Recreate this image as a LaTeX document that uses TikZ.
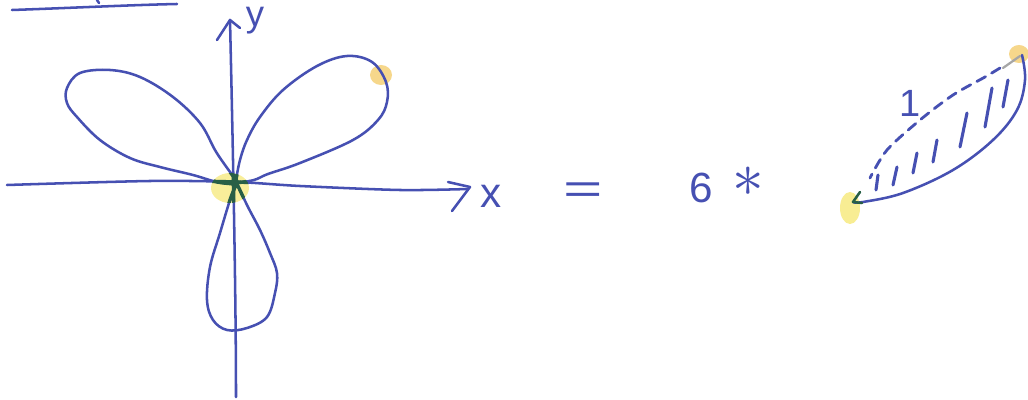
\documentclass[tikz,border=0pt]{standalone}
\usepackage{fontspec}
\setmainfont{Liberation Sans}
\definecolor{ink}{RGB}{70,80,178}
\definecolor{hlY}{RGB}{246,232,120}
\definecolor{hlO}{RGB}{244,205,110}
\definecolor{dkgreen}{RGB}{40,95,70}
\begin{document}
\begin{tikzpicture}[x=0.025cm,y=-0.025cm,
  inkline/.style={draw=ink,line width=1.8pt,line cap=round,line join=round},
  hatchline/.style={draw=ink,line width=2.2pt,line cap=round},
  lbl/.style={text=ink,inner sep=0pt,outer sep=0pt}]
\useasboundingbox (0,0) rectangle (1028,400);
% highlights
\fill[hlY,opacity=0.75] (230,188) ellipse [x radius=19, y radius=15];
\fill[hlO,opacity=0.8] (381,75) ellipse [x radius=11, y radius=10];
\fill[hlO,opacity=0.8] (1019,54) ellipse [x radius=10, y radius=9];
\fill[hlY,opacity=0.8] (850,208) ellipse [x radius=10, y radius=16];
% top-left underline
\draw[inkline] (12,10) .. controls (70,8) and (130,5) .. (177,4);
\draw[inkline] (97,0) -- (99,3);
% axes
\draw[inkline] (236,397) .. controls (236,300) and (233,150) .. (230,20);
\draw[inkline] (217,40) -- (230,20) -- (240,28);
\draw[inkline] plot[smooth] coordinates {(7,185) (150,181) (236,182) (300,186) (400,190) (468,189)};
\draw[inkline] (448,182) -- (470,187) -- (452,211);
% petals
\draw[inkline] plot[smooth,tension=0.6] coordinates {(236,180) (240,160) (247,140) (260,117) (283,90) (317,66) (347,56) (372,62) (386,82) (387,102) (378,120) (353,140) (300,163) (268,174) (254,180) (236,183)};
\draw[inkline] plot[smooth,tension=0.6] coordinates {(236,180) (225,165) (215,150) (200,123) (173,97) (140,77) (110,70) (80,73) (67,88) (67,103) (77,117) (100,140) (130,158) (160,167) (193,175) (217,182) (236,184)};
\draw[inkline] plot[smooth,tension=0.6] coordinates {(236,185) (230,200) (220,233) (210,267) (207,300) (213,320) (227,330) (247,328) (267,317) (275,293) (277,273) (270,253) (260,230) (248,207) (238,186)};
% ink over the yellow turns green
\begin{scope}
\clip (230,188) ellipse [x radius=19, y radius=15];
\draw[inkline,draw=dkgreen,line width=2.4pt] plot[smooth] coordinates {(7,185) (150,181) (236,182) (300,186) (400,190) (468,189)};
\draw[inkline,draw=dkgreen,line width=2.4pt] (236,397) .. controls (236,300) and (233,150) .. (230,20);
\draw[inkline,draw=dkgreen,line width=2.4pt] plot[smooth,tension=0.6] coordinates {(236,185) (230,200) (220,233) (210,267) (207,300) (213,320) (227,330) (247,328) (267,317) (275,293) (277,273) (270,253) (260,230) (248,207) (238,186)};
\draw[inkline,draw=dkgreen,line width=2.4pt] plot[smooth,tension=0.6] coordinates {(236,180) (225,165) (215,150) (200,123) (173,97) (140,77) (110,70) (80,73) (67,88) (67,103) (77,117) (100,140) (130,158) (160,167) (193,175) (217,182) (236,184)};
\draw[inkline,draw=dkgreen,line width=2.4pt] plot[smooth,tension=0.6] coordinates {(236,180) (240,160) (247,140) (260,117) (283,90) (317,66) (347,56) (372,62) (386,82) (387,102) (378,120) (353,140) (300,163) (268,174) (254,180) (236,183)};
\end{scope}
\fill[dkgreen] (235,183) circle (4.5);
% labels
\node[lbl,font=\fontsize{26}{30}\selectfont] (ylab) at (255,21) {y};
\node[lbl,font=\fontsize{30}{36}\selectfont] (xlab) at (491,196) {x};
\node[lbl,font=\fontsize{30}{36}\selectfont] (eq) at (583,193) {\scalebox{1.6}[1]{=}};
\node[lbl,font=\fontsize{30}{36}\selectfont] (six) at (701,188) {6};
\node[lbl,text=ink] (star) at (748,182) {\scalebox{4.5}{$\ast$}};
\node[lbl,font=\fontsize{27}{32}\selectfont] (one) at (910,103) {1};
% right figure: solid arc
\draw[inkline] plot[smooth,tension=0.6] coordinates {(1022,55) (1025,80) (1017,110) (993,140) (953,170) (903,193) (863,202) (853,202)};
\draw[inkline,draw=dkgreen] (860,192) -- (853,202) -- (862,203);
\draw[line width=1.6pt,draw=gray!70,line cap=round] (1020,56) -- (1003,68);
% dashed side
\draw[inkline,line width=2pt,dash pattern=on 7pt off 5pt] plot[smooth] coordinates {(1000,68) (985,77) (953,95) (920,120) (887,150) (870,178)};
% hatching
\draw[hatchline] (878,175) -- (876,190);
\draw[hatchline] (897,167) -- (893,185);
\draw[hatchline] (917,153) -- (913,173);
\draw[hatchline] (937,140) -- (933,162);
\draw[hatchline] (967,113) -- (960,147);
\draw[hatchline] (992,88) -- (985,127);
\draw[hatchline] (1008,80) -- (1003,107);
\end{tikzpicture}
\end{document}
